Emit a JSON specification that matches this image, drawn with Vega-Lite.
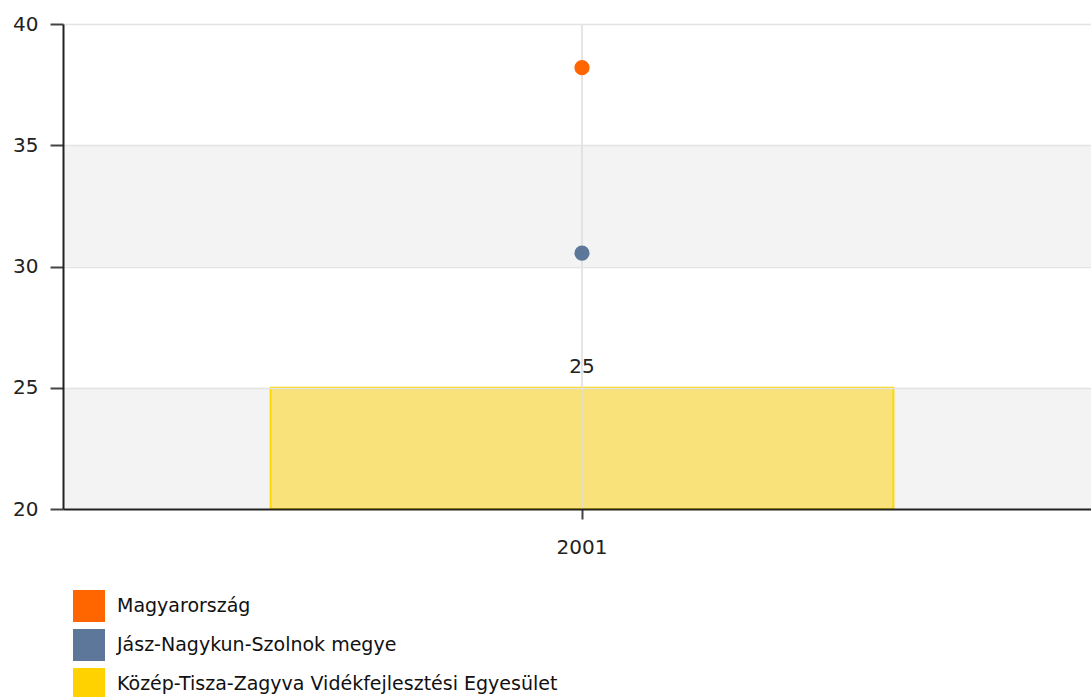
{
  "$schema": "https://vega.github.io/schema/vega-lite/v6.json",
  "autosize": "none",
  "width": 1038,
  "height": 485,
  "padding": {"left": 63, "top": 24, "right": 0, "bottom": 188},
  "background": "white",
  "config": {
    "view": {"stroke": null},
    "font": "DejaVu Sans",
    "axis": {
      "domainColor": "#222222",
      "domainWidth": 2,
      "tickColor": "#444444",
      "tickWidth": 2,
      "labelFont": "DejaVu Sans",
      "labelFontSize": 20,
      "labelColor": "#222222",
      "gridWidth": 1.5,
      "title": null
    }
  },
  "datasets": {
    "bands": [
      {"lo": 20, "hi": 25},
      {"lo": 30, "hi": 35}
    ],
    "main": [
      {"year": "2001", "series": "Magyarország", "value": 38.2, "kind": "point"},
      {"year": "2001", "series": "Jász-Nagykun-Szolnok megye", "value": 30.55, "kind": "point"},
      {"year": "2001", "series": "Közép-Tisza-Zagyva Vidékfejlesztési Egyesület", "value": 25, "kind": "bar"}
    ]
  },
  "layer": [
    {
      "data": {"name": "bands"},
      "mark": {"type": "rect", "fill": "#f3f3f3"},
      "encoding": {
        "y": {"field": "lo", "type": "quantitative", "scale": {"domain": [20, 40], "nice": false, "zero": false},
          "axis": {"values": [20, 25, 30, 35, 40], "tickSize": 13, "labelPadding": 12, "zindex": 1, "grid": true,
            "gridColor": {"condition": {"test": "datum.value === 20", "value": "transparent"}, "value": "#e4e4e4"}}},
        "y2": {"field": "hi"}
      }
    },
    {
      "data": {"name": "main"},
      "transform": [{"filter": "datum.kind === 'bar'"}],
      "mark": {"type": "bar", "width": {"band": 0.6}, "fillOpacity": 0.5, "stroke": "#FFD700", "strokeWidth": 2},
      "encoding": {
        "x": {"field": "year", "type": "nominal",
          "scale": {"paddingInner": 0, "paddingOuter": 0},
          "axis": {"labelAngle": 0, "tickSize": 10, "labelPadding": 18, "grid": false, "zindex": 1}},
        "y": {"field": "value", "type": "quantitative"},
        "y2": {"datum": 20},
        "color": {"field": "series", "type": "nominal",
          "scale": {"domain": ["Magyarország", "Jász-Nagykun-Szolnok megye", "Közép-Tisza-Zagyva Vidékfejlesztési Egyesület"],
                    "range": ["#FF6600", "#5C7799", "#FFD200"]},
          "legend": {
            "title": null, "orient": "none", "legendX": 10, "legendY": 566,
            "symbolType": "square", "symbolSize": 1024, "symbolStrokeWidth": 0, "symbolOpacity": 1,
            "labelFont": "DejaVu Sans", "labelFontSize": 19, "labelColor": "#111111",
            "labelOffset": 12, "rowPadding": 7, "padding": 0, "labelLimit": 0
          }}
      }
    },
    {
      "data": {"name": "main"},
      "transform": [{"filter": "datum.kind === 'bar'"}],
      "mark": {"type": "rule", "color": "#dddddd", "strokeWidth": 1.5},
      "encoding": {
        "x": {"field": "year", "type": "nominal"}
      }
    },
    {
      "data": {"name": "main"},
      "transform": [{"filter": "datum.kind === 'bar'"}],
      "mark": {"type": "text", "dy": -21, "fontSize": 20, "color": "#222222", "font": "DejaVu Sans"},
      "encoding": {
        "x": {"field": "year", "type": "nominal"},
        "y": {"field": "value", "type": "quantitative"},
        "text": {"field": "value", "type": "quantitative"}
      }
    },
    {
      "data": {"name": "main"},
      "transform": [{"filter": "datum.kind === 'point'"}],
      "mark": {"type": "point", "filled": true, "opacity": 1, "size": 230},
      "encoding": {
        "x": {"field": "year", "type": "nominal"},
        "y": {"field": "value", "type": "quantitative"},
        "color": {"field": "series", "type": "nominal"}
      }
    }
  ],
  "encoding": {}
}
